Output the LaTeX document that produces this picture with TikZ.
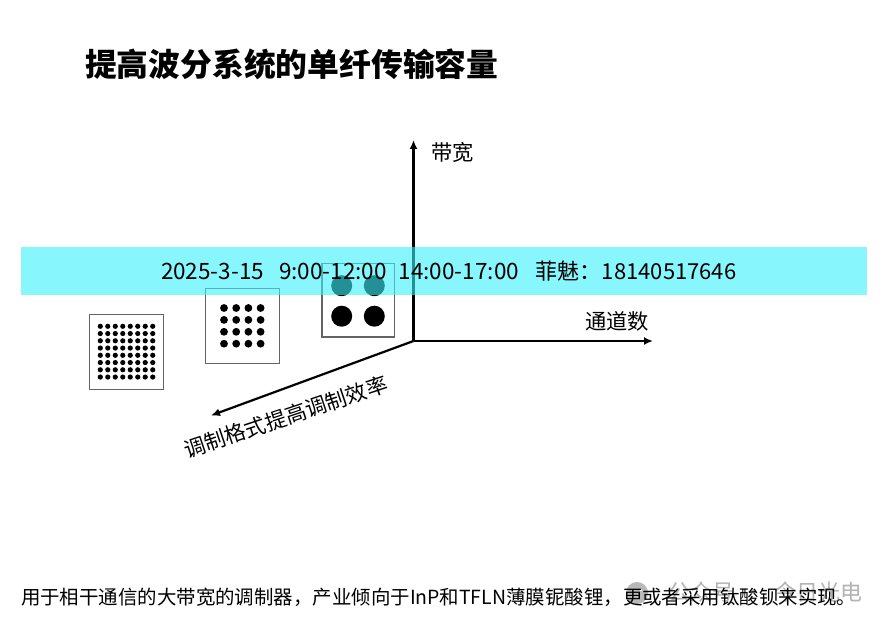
\documentclass[tikz,border=0pt]{standalone}
\usepackage{fontspec}
\setmainfont{Noto Sans CJK SC}
\usetikzlibrary{arrows.meta}
\definecolor{bandcol}{RGB}{58,243,252}
\definecolor{boxcol}{RGB}{100,100,100}
\tikzset{
  axisline/.style={draw=black,line width=2.2pt,-{Latex[length=9pt,width=8pt]}},
  qambox/.style={draw=boxcol,line width=1.2pt,fill=white},
  qamdot/.style={fill=black,draw=none},
  plain/.style={inner sep=0pt,outer sep=0pt,text=black},
  label20/.style={plain,font=\fontsize{21.3pt}{24pt}\selectfont},
  bandrect/.style={fill=bandcol,fill opacity=0.6,draw=none},
  wm/.style={plain,text=black!30,font=\fontsize{22pt}{24pt}\selectfont}
}
\begin{document}
\begin{tikzpicture}[x=1pt,y=-1pt]
\useasboundingbox (0,0) rectangle (893,628);
\fill[white] (0,0) rectangle (893,628);
% watermark
\fill[black!28] (637,593) circle (11);
\fill[white] (633,590) circle (1.3) (641,590) circle (1.3);
\node[wm,anchor=west] (wmark) at (668,592) {公众号\hspace{9pt}·\hspace{10pt}今日光电};
% title
\node[plain,anchor=west,font=\fontsize{31.8pt}{36pt}\selectfont\bfseries] (title) at (85,64.5) {提高波分系统的单纤传输容量};
% axes
\coordinate (o) at (413.5,341);
\coordinate (top) at (413.5,140);
\coordinate (right) at (653,341);
\coordinate (diag) at (211,415.5);
\draw[axisline] (o) -- (top);
\draw[axisline] (o) -- (right);
\draw[axisline] (o) -- (diag);
\node[label20,anchor=west] (bw) at (431,152.5) {带宽};
\node[label20,anchor=west] (ch) at (585,321) {通道数};
\node[label20,rotate=18.5,anchor=center] (mod) at (285.8,417) {调制格式提高调制效率};
% constellations
\node[qambox,minimum width=72.5pt,minimum height=73.7pt,inner sep=0pt] (q4) at (358.2,300.2) {};
\foreach \x in {341.7,374.3} \foreach \y in {285.7,316.2} \fill[qamdot] (\x,\y) circle (10.5);
\node[qambox,minimum width=73.6pt,minimum height=75pt,inner sep=0pt] (q16) at (242.5,325.8) {};
\foreach \i in {0,...,3} \foreach \j in {0,...,3} \fill[qamdot] (224+12.2*\i,308+11.9*\j) circle (3.9);
\node[qambox,minimum width=74.4pt,minimum height=75pt,inner sep=0pt] (q64) at (126.5,351.8) {};
\foreach \i in {0,...,7} \foreach \j in {0,...,7} \fill[qamdot] (100.3+7.49*\i,326.3+7.25*\j) circle (2.6);
% band
\fill[bandrect] (21,247) rectangle (867,295);
\node[plain,anchor=west,font=\fontsize{22.5pt}{24pt}\selectfont] (bandtext) at (161,271) {2025-3-15\hspace{15pt}9:00-12:00\hspace{12pt}14:00-17:00\hspace{17pt}{\fontsize{22pt}{24pt}\selectfont 菲魅：18140517646}};
% caption
\node[plain,anchor=west,font=\fontsize{19.45pt}{24pt}\selectfont] (cap) at (21,597) {用于相干通信的大带宽的调制器，产业倾向于InP和TFLN薄膜铌酸锂，更或者采用钛酸钡来实现。};
\end{tikzpicture}
\end{document}
